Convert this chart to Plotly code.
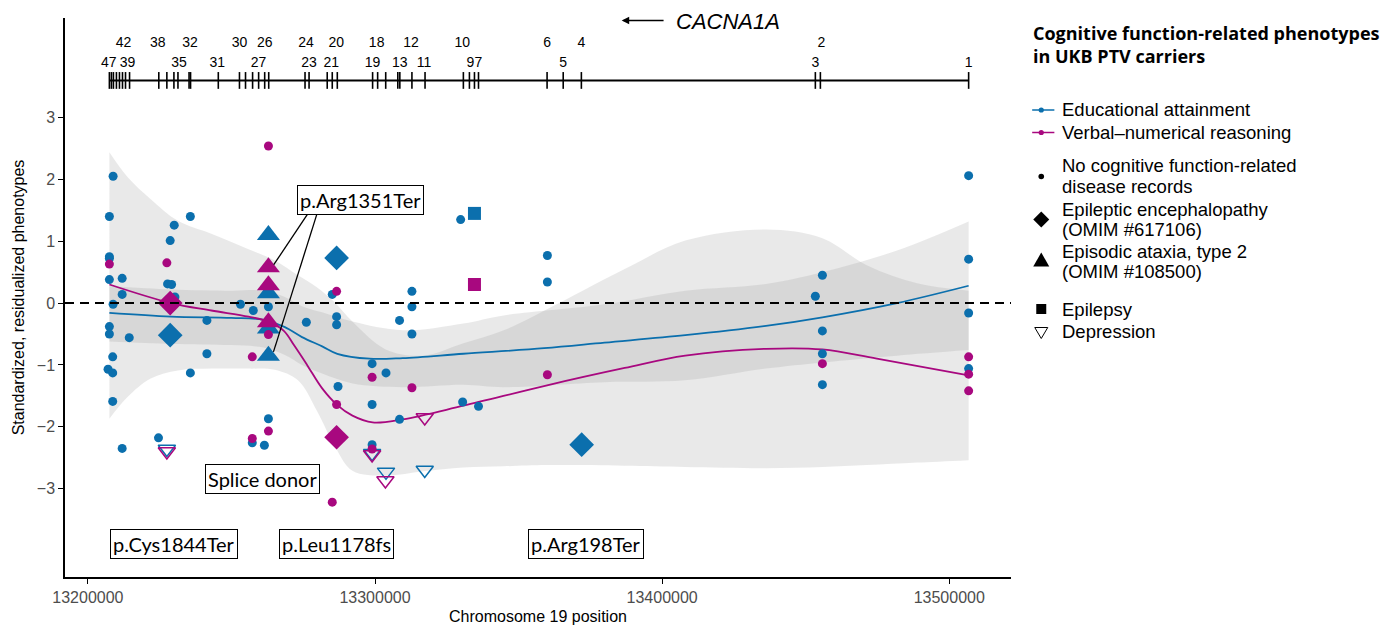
import plotly.graph_objects as go

BLUE = "#0B6FAD"
MAG = "#A8087F"
RIB = "rgba(150,150,150,0.21)"

# ---------------- data ----------------
x_range = [13192027, 13521499]
y_range = [-4.43, 4.61]

# Educational attainment points: position, value, disease code
ea_pos = [13207025, 13207482, 13207482, 13207482, 13207482, 13207482, 13207482,
          13208641, 13208641, 13208641, 13208781, 13208781, 13211943, 13211943,
          13211943, 13214401, 13224588, 13227503, 13227749, 13228662, 13228662,
          13229154, 13230067, 13230313, 13235687, 13235687, 13241448, 13241448,
          13253144, 13257605, 13257254, 13261469, 13262874, 13262874, 13262874,
          13262874, 13262874, 13262874, 13276081, 13285108, 13286618, 13286618,
          13286618, 13287110, 13298982, 13298982, 13298982, 13298982, 13303829,
          13303829, 13308536, 13308536, 13312856, 13312856, 13312856, 13317318,
          13329822, 13330525, 13334634, 13336039, 13360030, 13360030, 13371972,
          13453357, 13455815, 13455815, 13455815, 13455815, 13506747, 13506747,
          13506747, 13506747]
ea_val = [-1.07, 1.40, 0.75, 0.72, 0.38, -0.38, -0.50,
          -0.87, -1.13, -1.59, 2.05, -0.02, 0.40, 0.14,
          -2.35, -0.56, -2.18, -2.36, 0.31, 1.01, -0.52,
          0.30, 1.26, 0.10, 1.40, -1.13, -0.28, -0.82,
          -0.02, -0.12, -2.26, -2.30, 1.10, 0.16, -0.41,
          -0.85, -0.06, -1.87, -0.31, 0.14, 0.73, -0.22,
          -0.35, -1.35, -0.98, -1.64, -2.29, -2.43, -1.13,
          -2.73, -0.28, -1.88, 0.19, -0.06, -0.50, -2.70,
          1.35, -1.60, 1.45, -1.67, 0.77, 0.34, -2.29,
          0.11, 0.45, -0.45, -0.82, -1.32, 2.06, 0.71,
          -0.16, -1.06]
ea_code = ["none", "none", "none", "none", "none", "none", "none",
           "none", "none", "none", "none", "none", "none", "none",
           "none", "none", "none", "dep", "none", "none", "ee",
           "none", "none", "none", "none", "none", "none", "none",
           "none", "none", "none", "none", "ea2", "ea2", "ea2",
           "ea2", "none", "none", "none", "none", "ee", "none",
           "none", "none", "none", "none", "none", "dep", "none",
           "dep", "none", "none", "none", "none", "none", "dep",
           "none", "none", "epi", "none", "none", "none", "ee",
           "none", "none", "none", "none", "none", "none", "none",
           "none", "none"]

# Verbal-numerical reasoning points
vnr_pos = [13207482, 13227503, 13227503, 13228662, 13257254, 13257254, 13262874,
           13262874, 13262874, 13262874, 13262874, 13262874, 13285108, 13286618,
           13286618, 13286618, 13298982, 13298982, 13298982, 13303619, 13312856,
           13317318, 13334634, 13360030, 13455815, 13506747, 13506747, 13506747]
vnr_val = [0.63, 0.65, -2.40, 0.00, -0.87, -2.19, 2.54,
           0.58, 0.29, -0.31, -0.51, -2.07, -3.22, 0.19,
           -1.64, -2.17, -1.20, -2.36, -2.45, -2.87, -1.37,
           -1.85, 0.30, -1.16, -0.98, -0.87, -1.15, -1.42]
vnr_code = ["none", "none", "dep", "ee", "none", "none", "none",
            "ea2", "ea2", "ea2", "none", "none", "none", "none",
            "none", "ee", "none", "none", "dep", "dep", "none",
            "dep", "epi", "none", "none", "none", "none", "none"]

# smoothed fits
ea_fit_pos = [13207482, 13228908, 13249983, 13261223, 13268599, 13274570, 13281595,
              13286864, 13298104, 13309695, 13330770, 13358870, 13379945, 13408045,
              13436145, 13455815, 13481808, 13506747]
ea_fit_val = [-0.16, -0.22, -0.24, -0.27, -0.39, -0.55, -0.70,
              -0.82, -0.90, -0.89, -0.82, -0.73, -0.64, -0.52,
              -0.37, -0.23, 0.00, 0.28]
vnr_fit_pos = [13207482, 13228908, 13242958, 13255954, 13262979, 13268248, 13271760,
               13276326, 13281595, 13286864, 13292133, 13299157, 13309695, 13330770,
               13359924, 13386970, 13408045, 13436145, 13455815, 13474783, 13506747]
vnr_fit_val = [0.30, 0.00, -0.12, -0.22, -0.30, -0.45, -0.68,
               -1.00, -1.38, -1.65, -1.82, -1.93, -1.88, -1.66,
               -1.33, -1.05, -0.85, -0.74, -0.75, -0.90, -1.17]

# confidence ribbons
vnr_rib_pos = [13207482, 13213804, 13221883, 13231367, 13242958, 13255954, 13265086,
               13273165, 13279839, 13286162, 13292133, 13303724, 13316720, 13330770,
               13344820, 13359924, 13386970, 13408045, 13436145, 13455815, 13471270,
               13488833, 13506747]
vnr_rib_hi = [2.44, 2.04, 1.68, 1.33, 1.12, 0.87, 0.69,
              0.45, 0.25, 0.00, -0.30, -0.75, -0.85, -0.65,
              -0.44, -0.10, 0.55, 1.01, 1.19, 1.05, 0.61,
              0.32, 0.20]
vnr_rib_lo = [-1.87, -1.52, -1.22, -1.09, -1.06, -1.06, -1.08,
              -1.25, -1.75, -2.33, -2.71, -2.79, -2.72, -2.66,
              -2.64, -2.62, -2.63, -2.65, -2.67, -2.65, -2.62,
              -2.58, -2.54]
ea_rib_pos = [13207482, 13228908, 13249983, 13261223, 13268599, 13274570, 13281595,
              13292133, 13309695, 13330770, 13344820, 13379945, 13408045, 13436145,
              13455815, 13481808, 13506747]
ea_rib_hi = [0.27, 0.22, 0.20, 0.20, 0.10, -0.05, -0.15,
             -0.30, -0.44, -0.33, -0.20, -0.02, 0.20, 0.31,
             0.50, 0.85, 1.32]
ea_rib_lo = [-0.62, -0.66, -0.68, -0.72, -0.84, -1.00, -1.14,
             -1.30, -1.36, -1.32, -1.36, -1.28, -1.25, -1.06,
             -0.96, -0.85, -0.76]

# gene model
exon_pos = [13207482, 13208184, 13208887, 13209940, 13210994, 13212048, 13213102,
            13214507, 13224693, 13227503, 13229962, 13231367, 13235230, 13235757,
            13245417, 13252792, 13254900, 13257359, 13259466, 13261574, 13262979,
            13275624, 13277029, 13283352, 13285108, 13286864, 13299157, 13300914,
            13303724, 13307939, 13308641, 13312856, 13317423, 13330770, 13332878,
            13334634, 13336039, 13359924, 13365544, 13371867, 13453357, 13455111,
            13506747]
exon_lab_upper = ["42", "38", "32", "30", "26", "24", "20", "18", "12", "10", "6", "4", "2"]
exon_lab_upper_pos = [13212399, 13224341, 13235582, 13252792, 13261574, 13275975, 13286511,
                      13300563, 13312505, 13330419, 13359924, 13371867, 13455464]
exon_lab_lower = ["47", "39", "35", "31", "27", "23", "21", "19", "13", "11", "9", "7", "5", "3", "1"]
exon_lab_lower_pos = [13207300, 13213800, 13231718, 13245065, 13259466, 13277029, 13284757,
                      13299157, 13308641, 13317072, 13333229, 13336039, 13365544, 13453357,
                      13506747]

# variant labels
lab_text = ["p.Arg1351Ter", "Splice donor", "p.Cys1844Ter", "p.Leu1178fs", "p.Arg198Ter"]
lab_pos = [13294838, 13260867, 13229856, 13286618, 13373447]
lab_val = [1.67, -2.85, -3.89, -3.89, -3.89]

x_ticks = [13200000, 13300000, 13400000, 13500000]
y_ticks = [-3, -2, -1, 0, 1, 2, 3]

legend_title = ["Cognitive function-related phenotypes", "in UKB PTV carriers"]
legend_items = [  # glyph, colour, label lines
    ("line", BLUE, ["Educational attainment"]),
    ("line", MAG, ["Verbal\u2013numerical reasoning"]),
    ("circle", "black", ["No cognitive function-related", "disease records"]),
    ("diamond", "black", ["Epileptic encephalopathy", "(OMIM #617106)"]),
    ("triangle", "black", ["Episodic ataxia, type 2", "(OMIM #108500)"]),
    ("square", "black", ["Epilepsy"]),
    ("opentri", "black", ["Depression"]),
]

# ---------------- style / layout geometry ----------------
# page has an 8px body margin; plot panel spans page px x 65-1003, y 18-577
PL, PR, PT, PB = 65, 1003, 18, 577
def pxx(px):
    return (px - PL) / (PR - PL)
def pxy(py):
    return (PB - py) / (PB - PT)

SYM = {"none": dict(symbol="circle", size=9),
       "ee": dict(symbol="diamond", size=19),
       "ea2": dict(symbol="triangle-up", size=20),
       "epi": dict(symbol="square", size=13),
       "dep": dict(symbol="triangle-down-open", size=15)}

fig = go.Figure()

# ribbons
for pos, hi, lo in [(vnr_rib_pos, vnr_rib_hi, vnr_rib_lo), (ea_rib_pos, ea_rib_hi, ea_rib_lo)]:
    fig.add_trace(go.Scatter(x=pos, y=hi, mode="lines", line=dict(width=0, shape="spline"),
                             showlegend=False, hoverinfo="skip"))
    fig.add_trace(go.Scatter(x=pos, y=lo, mode="lines", line=dict(width=0, shape="spline"),
                             fill="tonexty", fillcolor=RIB, showlegend=False, hoverinfo="skip"))

# fitted lines
fig.add_trace(go.Scatter(x=ea_fit_pos, y=ea_fit_val, mode="lines",
                         line=dict(color=BLUE, width=1.8, shape="spline"), showlegend=False))
fig.add_trace(go.Scatter(x=vnr_fit_pos, y=vnr_fit_val, mode="lines",
                         line=dict(color=MAG, width=1.8, shape="spline"), showlegend=False))

# points
for pos, val, code, col in [(ea_pos, ea_val, ea_code, BLUE), (vnr_pos, vnr_val, vnr_code, MAG)]:
    for c in ["none", "ee", "ea2", "epi", "dep"]:
        xs = [p for p, k in zip(pos, code) if k == c]
        ys = [v for v, k in zip(val, code) if k == c]
        if not xs:
            continue
        m = dict(color=col, symbol=SYM[c]["symbol"], size=SYM[c]["size"])
        if c == "dep":
            m["line"] = dict(color=col, width=1.5)
        else:
            m["line"] = dict(width=0)
        fig.add_trace(go.Scatter(x=xs, y=ys, mode="markers", marker=m, showlegend=False))

# gene track
fig.add_trace(go.Scatter(x=[exon_pos[0], exon_pos[-1]], y=[3.60, 3.60], mode="lines",
                         line=dict(color="black", width=2), showlegend=False, hoverinfo="skip"))
fig.add_trace(go.Scatter(x=exon_pos, y=[3.60] * len(exon_pos), mode="markers",
                         marker=dict(symbol="line-ns-open", size=12, color="black",
                                     line=dict(color="black", width=1.6)),
                         showlegend=False, hoverinfo="skip"))
fig.add_trace(go.Scatter(x=exon_lab_upper_pos, y=[4.19] * len(exon_lab_upper_pos), mode="text",
                         text=exon_lab_upper, textfont=dict(size=14, color="black", family="Liberation Sans"),
                         showlegend=False, hoverinfo="skip"))
fig.add_trace(go.Scatter(x=exon_lab_lower_pos, y=[3.88] * len(exon_lab_lower_pos), mode="text",
                         text=exon_lab_lower, textfont=dict(size=14, color="black", family="Liberation Sans"),
                         showlegend=False, hoverinfo="skip"))

# annotations
ann = []
for t, x, y in zip(lab_text, lab_pos, lab_val):
    ann.append(dict(x=x, y=y, xref="x", yref="y", text=t, showarrow=False,
                    font=dict(size=20, color="black", family="Lato"),
                    bordercolor="black", borderwidth=1, borderpad=2, bgcolor="white"))
ann.append(dict(x=13422798, y=4.555, xref="x", yref="y", text="<i>CACNA1A</i>", showarrow=False,
                font=dict(size=22, color="black", family="Liberation Sans"), xanchor="center"))
ann.append(dict(x=13385917, y=4.57, xref="x", yref="y", ax=13401020, ay=4.57,
                axref="x", ayref="y", text="", showarrow=True, arrowhead=2,
                arrowsize=1, arrowwidth=1.5, arrowcolor="black"))

shapes = [
    dict(type="line", xref="paper", x0=0, x1=1, yref="y", y0=0, y1=0,
         line=dict(color="black", width=2, dash="9px,6px"), layer="above"),
    dict(type="line", xref="x", yref="y", x0=13276678, y0=1.45, x1=13264736, y1=0.62,
         line=dict(color="black", width=1.3)),
    dict(type="line", xref="x", yref="y", x0=13279839, y0=1.45, x1=13264630, y1=-0.79,
         line=dict(color="black", width=1.3)),
]

# manual legend (title, glyphs, labels)
for t, yc in zip(legend_title, [33, 56]):
    ann.append(dict(x=pxx(1023), y=pxy(yc), xref="paper", yref="paper", xanchor="left",
                    yanchor="middle", showarrow=False, text="<b>" + t + "</b>",
                    font=dict(size=18, color="black", family="Open Sans")))
line_y = [[110], [132.5], [166, 186.5], [209.5, 229.5], [251.5, 271], [309.5], [331.5]]
glyph_y = [110, 132.5, 176.5, 219.5, 260, 309, 332.5]
for (g, col, lines), ly, gy in zip(legend_items, line_y, glyph_y):
    for t, yy in zip(lines, ly):
        ann.append(dict(x=pxx(1052), y=pxy(yy), xref="paper", yref="paper", xanchor="left",
                        yanchor="middle", showarrow=False, text=t,
                        font=dict(size=18.5, color="black", family="Liberation Sans")))
    base = dict(xref="paper", yref="paper", xsizemode="pixel", ysizemode="pixel",
                xanchor=pxx(1033), yanchor=pxy(gy))
    if g == "line":
        shapes.append(dict(type="line", xref="paper", yref="paper", x0=pxx(1024), x1=pxx(1046),
                           y0=pxy(gy), y1=pxy(gy), line=dict(color=col, width=1.5)))
        shapes.append(dict(base, type="circle", x0=-2.6, x1=2.6, y0=-2.6, y1=2.6,
                           fillcolor=col, line=dict(width=0)))
    elif g == "circle":
        shapes.append(dict(base, type="circle", x0=-2.8, x1=2.8, y0=-2.8, y1=2.8,
                           fillcolor=col, line=dict(width=0)))
    elif g == "diamond":
        shapes.append(dict(base, type="path", path="M 0 8 L 8 0 L 0 -8 L -8 0 Z",
                           fillcolor=col, line=dict(width=0)))
    elif g == "triangle":
        shapes.append(dict(base, type="path", path="M -8 -6.5 L 8 -6.5 L 0 7.5 Z",
                           fillcolor=col, line=dict(width=0)))
    elif g == "square":
        shapes.append(dict(base, type="rect", x0=-5, x1=5, y0=-5, y1=5,
                           fillcolor=col, line=dict(width=0)))
    elif g == "opentri":
        shapes.append(dict(base, type="path", path="M -6.5 5 L 6.5 5 L 0 -6 Z",
                           fillcolor="rgba(0,0,0,0)", line=dict(color=col, width=1)))

fig.update_layout(
    width=1392, height=617,
    margin=dict(l=57, r=389, t=10, b=48, autoexpand=False),
    paper_bgcolor="white", plot_bgcolor="white",
    font=dict(family="Liberation Sans", size=16, color="black"),
    showlegend=False,
    annotations=ann, shapes=shapes,
    xaxis=dict(range=x_range, showgrid=False, zeroline=False, showline=True, automargin=False,
               linecolor="black", linewidth=1.5, ticks="outside", ticklen=5,
               tickcolor="black", tickwidth=1.2, tickvals=x_ticks,
               ticktext=[str(v) for v in x_ticks],
               tickfont=dict(size=16, color="#4D4D4D", family="Liberation Sans"),
               title=dict(text="Chromosome 19 position", standoff=6,
                          font=dict(size=16, color="black"))),
    yaxis=dict(range=y_range, showgrid=False, zeroline=False, showline=True, automargin=False,
               linecolor="black", linewidth=1.5, ticks="outside", ticklen=5,
               tickcolor="black", tickwidth=1.2, tickvals=y_ticks,
               ticktext=[("\u2212" + str(-v)) if v < 0 else str(v) for v in y_ticks],
               tickfont=dict(size=16, color="#4D4D4D", family="Liberation Sans"),
               title=dict(text="Standardized, residualized phenotypes", standoff=8,
                          font=dict(size=16, color="black"))),
)

fig.write_html("out.html")
